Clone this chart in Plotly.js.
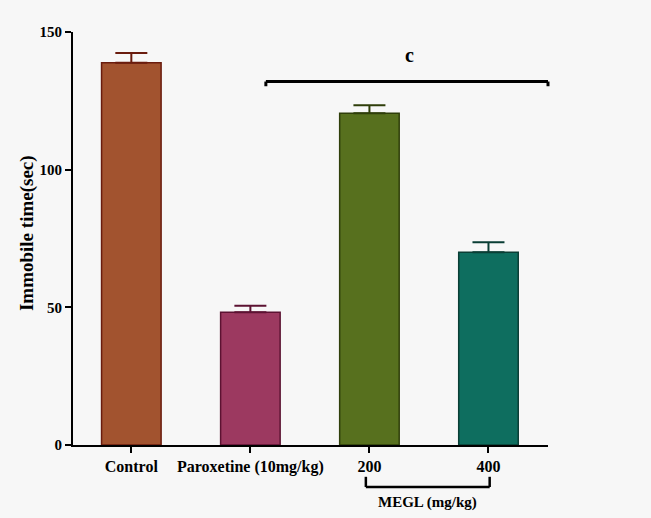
<!DOCTYPE html>
<html>
<head>
<meta charset="utf-8">
<script src="https://cdn.plot.ly/plotly-3.0.1.min.js"></script>
<style>html,body{margin:0;padding:0;background:#f7f7f7;}#chart{width:651px;height:518px;}</style>
</head>
<body>
<div id="chart"></div>
<script>
var categories = ["Control", "Paroxetine (10mg/kg)", "200", "400"];
var immobileTime = [138.8, 48.2, 120.5, 70.0];
var semError = [3.6, 2.4, 2.9, 3.6];
var fillColors = ["#A2532F", "#9C3960", "#57701E", "#0E6E5F"];
var lineColors = ["#6A1C0E", "#5C1232", "#2F3E0A", "#0A3E35"];
var yTicks = [0, 50, 100, 150];
var yTitle = "Immobile time(sec)";
var groupLabel = "MEGL (mg/kg)";
var sigLabel = "c";

var xRange = [-0.49, 3.5];
function px(i) { return (i - xRange[0]) / (xRange[1] - xRange[0]); }

var traces = categories.map(function (c, i) {
  return {
    type: "bar",
    x: [i],
    y: [immobileTime[i]],
    width: 0.5,
    marker: { color: fillColors[i], line: { color: lineColors[i], width: 1.5 } },
    error_y: { type: "data", symmetric: false, array: [semError[i]], arrayminus: [0],
               color: lineColors[i], thickness: 2, width: 16 },
    showlegend: false,
    hoverinfo: "skip"
  };
});

var serif = "Liberation Serif, Times New Roman, serif";
var layout = {
  width: 651, height: 518,
  margin: { l: 73, r: 103, t: 32, b: 73 },
  paper_bgcolor: "#f7f7f7",
  plot_bgcolor: "#f7f7f7",
  bargap: 0.5,
  xaxis: {
    range: xRange,
    tickvals: [0, 1, 2, 3],
    ticktext: categories,
    showline: true, linecolor: "#000", linewidth: 2,
    ticks: "outside", ticklen: 6, tickwidth: 2, tickcolor: "#000",
    showgrid: false, zeroline: false,
    tickfont: { family: serif, size: 16, color: "#000", weight: "bold" },
    fixedrange: true
  },
  yaxis: {
    range: [0, 150],
    tickvals: yTicks,
    showline: true, linecolor: "#000", linewidth: 2,
    ticks: "outside", ticklen: 6, tickwidth: 2, tickcolor: "#000",
    showgrid: false, zeroline: false,
    tickfont: { family: serif, size: 15, color: "#000", weight: "bold" },
    fixedrange: true
  },
  shapes: [
    { type: "line", xref: "paper", yref: "y", x0: px(1.13), x1: px(3.5), y0: 132, y1: 132, line: { color: "#000", width: 3 } },
    { type: "line", xref: "paper", yref: "y", x0: px(1.13), x1: px(1.13), y0: 132, y1: 130.3, line: { color: "#000", width: 3 } },
    { type: "line", xref: "paper", yref: "y", x0: px(3.5), x1: px(3.5), y0: 132, y1: 130.3, line: { color: "#000", width: 3 } },
    { type: "line", xref: "paper", yref: "paper", x0: px(1.97), x1: px(3.01), y0: -0.1017, y1: -0.1017, line: { color: "#000", width: 2.5 } },
    { type: "line", xref: "paper", yref: "paper", x0: px(1.97), x1: px(1.97), y0: -0.1017, y1: -0.077, line: { color: "#000", width: 2.5 } },
    { type: "line", xref: "paper", yref: "paper", x0: px(3.01), x1: px(3.01), y0: -0.1017, y1: -0.077, line: { color: "#000", width: 2.5 } }
  ],
  annotations: [
    { xref: "paper", yref: "paper", x: -0.097, y: 0.513, xanchor: "center", yanchor: "middle",
      textangle: -90, text: yTitle, showarrow: false,
      font: { family: serif, size: 19, color: "#000", weight: "bold" } },
    { xref: "paper", yref: "y", x: px(2.34), y: 141.5, xanchor: "center", yanchor: "middle",
      text: sigLabel, showarrow: false,
      font: { family: serif, size: 20, color: "#000", weight: "bold" } },
    { xref: "paper", yref: "paper", x: px(2.49), y: -0.14, xanchor: "center", yanchor: "middle",
      text: groupLabel, showarrow: false,
      font: { family: serif, size: 15, color: "#000", weight: "bold" } }
  ]
};

Plotly.newPlot("chart", traces, layout, { displayModeBar: false, staticPlot: true });
</script>
</body>
</html>
